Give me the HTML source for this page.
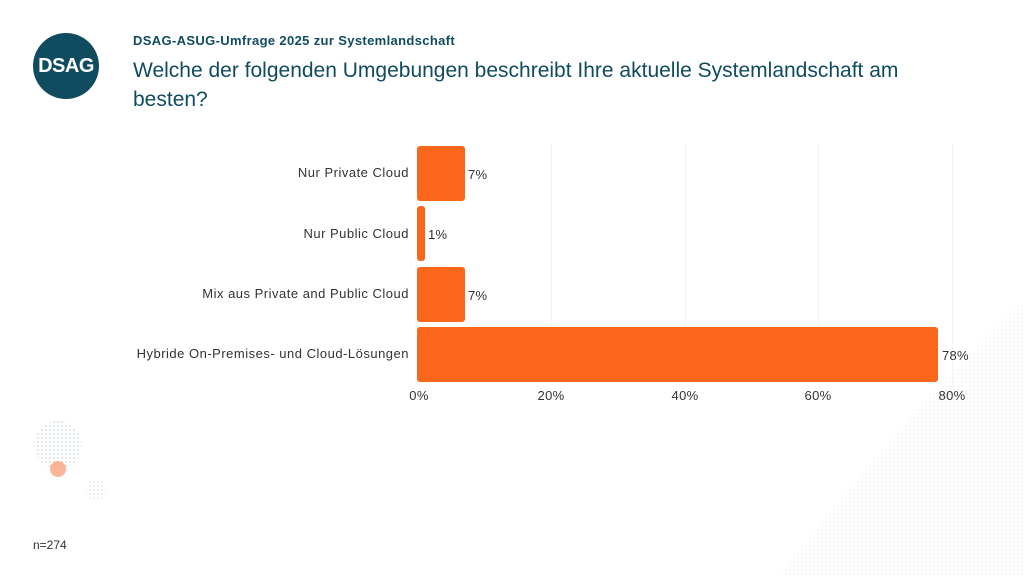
<!DOCTYPE html>
<html><head><meta charset="utf-8"><style>
body{margin:0;width:1024px;height:576px;background:#fff;position:relative;overflow:hidden;font-family:"Liberation Sans",sans-serif}
.logo{position:absolute;left:33px;top:33px;width:66px;height:66px;border-radius:50%;background:#0f4c5f;color:#fff;font-weight:bold;font-size:20px;line-height:66px;text-align:center;letter-spacing:-0.5px}
.sub{position:absolute;left:133px;top:33px;font-size:13px;font-weight:bold;color:#0f4c5f;letter-spacing:0.35px}
.title{position:absolute;left:133px;top:56px;font-size:21px;line-height:29px;color:#0f4c5f;width:800px}
.lbl{position:absolute;right:615px;font-size:13px;letter-spacing:0.5px;color:#333;text-align:right;white-space:nowrap}
.bar{position:absolute;left:417px;background:#fa661b;border-radius:3px;height:55px}
.val{position:absolute;font-size:13px;letter-spacing:0.3px;color:#333}
.tick{position:absolute;top:388px;font-size:13px;letter-spacing:0.3px;color:#333;transform:translateX(-50%)}
.grid{position:absolute;top:143px;height:242px;width:1px;background:#f4f4f4}
.n{position:absolute;left:33px;top:538px;font-size:12px;color:#333}
</style></head><body>
<div class="logo">DSAG</div>
<div class="sub">DSAG-ASUG-Umfrage 2025 zur Systemlandschaft</div>
<div class="title">Welche der folgenden Umgebungen beschreibt Ihre aktuelle Systemlandschaft am besten?</div>
<div class="grid" style="left:551px"></div><div class="grid" style="left:685px"></div><div class="grid" style="left:818px"></div><div class="grid" style="left:952px"></div>
<div class="lbl" style="top:165px">Nur Private Cloud</div>
<div class="lbl" style="top:226px">Nur Public Cloud</div>
<div class="lbl" style="top:286px">Mix aus Private and Public Cloud</div>
<div class="lbl" style="top:346px">Hybride On-Premises- und Cloud-Lösungen</div>
<div class="bar" style="top:146px;width:48px"></div>
<div class="bar" style="top:206px;width:8px"></div>
<div class="bar" style="top:267px;width:48px"></div>
<div class="bar" style="top:327px;width:521px"></div>
<div class="val" style="left:468px;top:167px">7%</div>
<div class="val" style="left:428px;top:227px">1%</div>
<div class="val" style="left:468px;top:288px">7%</div>
<div class="val" style="left:942px;top:348px">78%</div>
<div class="tick" style="left:419px">0%</div>
<div class="tick" style="left:551px">20%</div>
<div class="tick" style="left:685px">40%</div>
<div class="tick" style="left:818px">60%</div>
<div class="tick" style="left:952px">80%</div>
<svg style="position:absolute;left:0;top:0" width="1024" height="576">
<defs><pattern id="d" width="4" height="4" patternUnits="userSpaceOnUse"><circle cx="2" cy="2" r="0.8" fill="#9fb6bf"/></pattern></defs>
<circle cx="58" cy="445" r="24" fill="url(#d)" opacity="0.7"/>
<circle cx="58" cy="469" r="8" fill="#f7a37a" opacity="0.8"/>
<circle cx="96" cy="490" r="10" fill="url(#d)" opacity="0.5"/>
<path d="M1024 300 Q900 420 780 576 L1024 576 Z" fill="url(#d)" opacity="0.25"/>
</svg>
<div class="n">n=274</div>
</body></html>
